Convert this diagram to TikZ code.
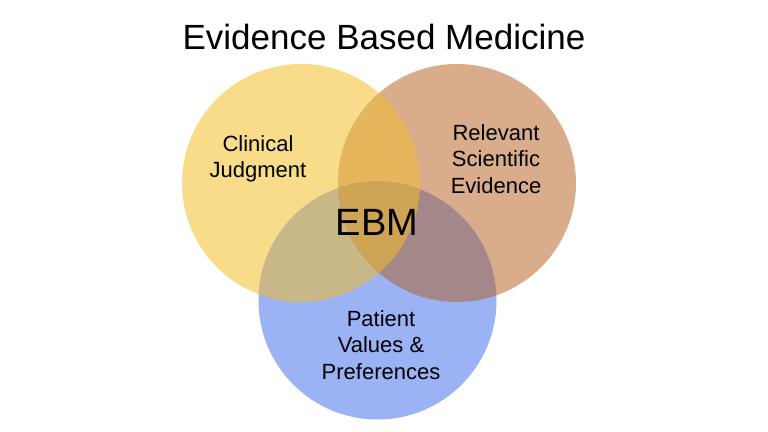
\documentclass[tikz,border=0pt]{standalone}
\usepackage{fontspec}
\setmainfont{Liberation Sans}
\definecolor{judgmentfill}{HTML}{F9DC8A}
\definecolor{evidencefill}{HTML}{D9AC8C}
\definecolor{patientfill}{HTML}{9BB2F5}
\definecolor{jefill}{HTML}{E6B65C}
\definecolor{jpfill}{HTML}{C8B887}
\definecolor{epfill}{HTML}{A48788}
\definecolor{ebmfill}{HTML}{CFA555}
\begin{document}
\begin{tikzpicture}[x=1pt, y=-1pt]
    \tikzstyle{label text}=[align=center, font=\fontsize{22}{26.5}\selectfont, inner sep=0pt]
    \tikzstyle{title text}=[font=\fontsize{35}{40}\selectfont, inner sep=0pt]
    \def\rad{119pt}

    \useasboundingbox (0,0) rectangle (768,431);

    % Centres of the three circles
    \coordinate (J) at (301,183);
    \coordinate (E) at (457,183);
    \coordinate (P) at (377.5,300.5);

    % Draw the single circles
    \fill[judgmentfill] (J) circle[radius=\rad];
    \fill[evidencefill] (E) circle[radius=\rad];
    \fill[patientfill] (P) circle[radius=\rad];

    % Draw the overlaps of two circles
    \begin{scope}
        \clip (J) circle[radius=\rad];
        \fill[jefill] (E) circle[radius=\rad];
        \fill[jpfill] (P) circle[radius=\rad];
    \end{scope}
    \begin{scope}
        \clip (E) circle[radius=\rad];
        \fill[epfill] (P) circle[radius=\rad];
    \end{scope}

    % Draw the overlap of all three circles
    \begin{scope}
        \clip (J) circle[radius=\rad];
        \clip (E) circle[radius=\rad];
        \fill[ebmfill] (P) circle[radius=\rad];
    \end{scope}

    % Texts
    \node[title text] (title) at (384,37) {Evidence Based Medicine};
    \node[label text] (judgment) at (258,159) {Clinical\\Judgment};
    \node[label text] (evidence) at (496,159) {Relevant\\Scientific\\Evidence};
    \node[font=\fontsize{38}{44}\selectfont, inner sep=0pt] (ebm) at (377,222) {EBM};
    \node[label text] (patient) at (381,345) {Patient\\Values \&\\Preferences};

\end{tikzpicture}
\end{document}
